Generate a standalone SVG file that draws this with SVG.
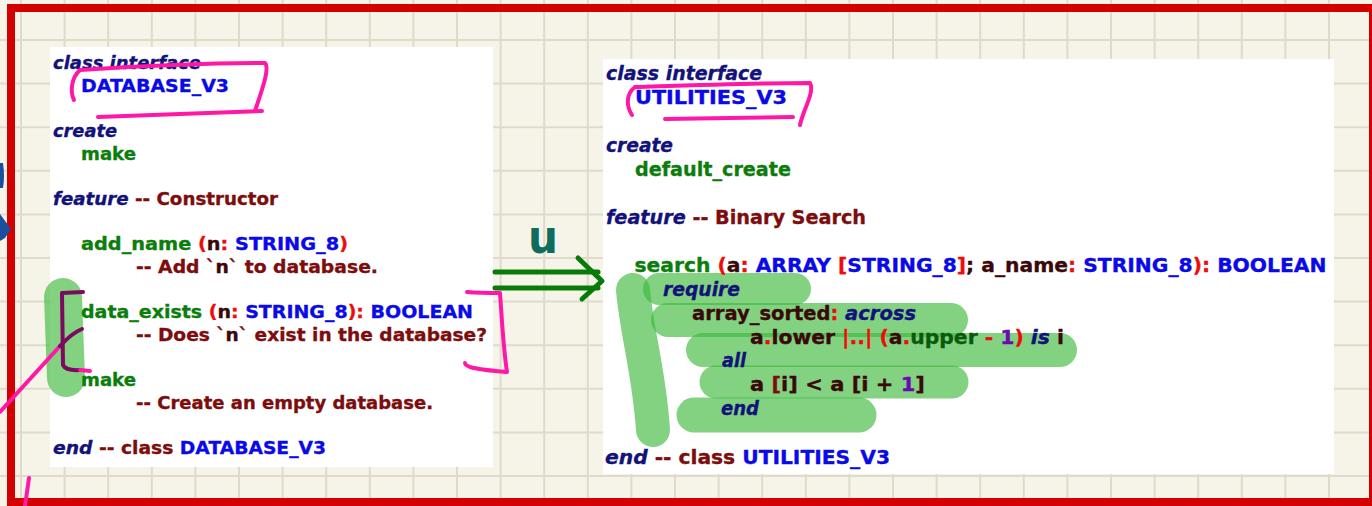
<svg xmlns="http://www.w3.org/2000/svg" width="1372" height="506" viewBox="0 0 1372 506">
<style>
.t{font-family:"DejaVu Sans",Verdana,sans-serif;font-weight:bold;stroke-width:0.35}
.l{font-size:18.5px}
.r{font-size:19.5px}
.kw{fill:#12127a;stroke:#12127a;font-style:italic}
.cl{fill:#0a0ae8;stroke:#0a0ae8}
.fn{fill:#0b7d0b;stroke:#0b7d0b}
.cm{fill:#7d0c0c;stroke:#7d0c0c}
.sy{fill:#f00a0a;stroke:#f00a0a}
.id{fill:#3a0808;stroke:#3a0808}
.up{fill:#0b5a0b;stroke:#0b5a0b}
.nu{fill:#6a0ab0;stroke:#6a0ab0}
.pink{fill:none;stroke:#ff18a6;stroke-width:4;stroke-linecap:round;stroke-linejoin:round}
.purp{fill:none;stroke:#7b0b5e;stroke-width:4;stroke-linecap:round;stroke-linejoin:round}
.hl{fill:none;stroke:#3cb83c;stroke-opacity:0.64;stroke-linecap:round}
.panel{fill:#ffffff}
</style>
<rect x="0" y="0" width="1372" height="506" fill="#f6f4e8"/>
<path fill="none" stroke="#dedbcb" stroke-width="2" d="M21 0V506M64.6 0V506M108.2 0V506M151.8 0V506M195.4 0V506M239 0V506M282.6 0V506M326.2 0V506M369.8 0V506M413.4 0V506M457 0V506M500.6 0V506M544.2 0V506M587.8 0V506M631.4 0V506M675 0V506M718.6 0V506M762.2 0V506M805.8 0V506M849.4 0V506M893 0V506M936.6 0V506M980.2 0V506M1023.8 0V506M1067.4 0V506M1111 0V506M1154.6 0V506M1198.2 0V506M1241.8 0V506M1285.4 0V506M1329 0V506M0 40H1372M0 83.6H1372M0 127.2H1372M0 170.8H1372M0 214.4H1372M0 258H1372M0 301.6H1372M0 345.2H1372M0 388.8H1372M0 432.4H1372M0 476H1372"/>
<rect x="11" y="8" width="1362" height="494" fill="none" stroke="#d40000" stroke-width="8"/>

<g id="database_v3">
<rect class="panel" x="50" y="47" width="443" height="420"/>
<path class="hl" stroke-width="38" d="M63 297L66 378"/>
<text class="t l" x="53" y="69" textLength="148" lengthAdjust="spacingAndGlyphs"><tspan class="kw">class interface</tspan></text>
<text class="t l" x="81" y="92" textLength="148" lengthAdjust="spacingAndGlyphs"><tspan class="cl">DATABASE_V3</tspan></text>
<text class="t l" x="53" y="137" textLength="64" lengthAdjust="spacingAndGlyphs"><tspan class="kw">create</tspan></text>
<text class="t l" x="81" y="160" textLength="55" lengthAdjust="spacingAndGlyphs"><tspan class="fn">make</tspan></text>
<text class="t l" x="53" y="205" textLength="225" lengthAdjust="spacingAndGlyphs"><tspan class="kw">feature</tspan><tspan class="cm"> -- Constructor</tspan></text>
<text class="t l" x="81" y="250" textLength="267" lengthAdjust="spacingAndGlyphs"><tspan class="fn">add_name</tspan><tspan class="sy"> (</tspan><tspan class="id">n</tspan><tspan class="sy">:</tspan><tspan class="cl"> STRING_8</tspan><tspan class="sy">)</tspan></text>
<text class="t l" x="136" y="272.5" textLength="242" lengthAdjust="spacingAndGlyphs"><tspan class="cm">-- Add `</tspan><tspan class="id">n</tspan><tspan class="cm">` to database.</tspan></text>
<text class="t l" x="81" y="318" textLength="392" lengthAdjust="spacingAndGlyphs"><tspan class="fn">data_exists</tspan><tspan class="sy"> (</tspan><tspan class="id">n</tspan><tspan class="sy">:</tspan><tspan class="cl"> STRING_8</tspan><tspan class="sy">):</tspan><tspan class="cl"> BOOLEAN</tspan></text>
<text class="t l" x="136" y="341" textLength="351" lengthAdjust="spacingAndGlyphs"><tspan class="cm">-- Does `</tspan><tspan class="id">n</tspan><tspan class="cm">` exist in the database?</tspan></text>
<text class="t l" x="81" y="386" textLength="55" lengthAdjust="spacingAndGlyphs"><tspan class="fn">make</tspan></text>
<text class="t l" x="136" y="409" textLength="297" lengthAdjust="spacingAndGlyphs"><tspan class="cm">-- Create an empty database.</tspan></text>
<text class="t l" x="53" y="454" textLength="273" lengthAdjust="spacingAndGlyphs"><tspan class="kw">end</tspan><tspan class="cm"> -- class</tspan><tspan class="cl"> DATABASE_V3</tspan></text>
</g>

<g id="utilities_v3">
<rect class="panel" x="603" y="59" width="731" height="415"/>
<path class="hl" stroke-width="34" d="M633 290C637 335 649 370 653 430"/>
<path class="hl" stroke-width="32" d="M659 289H795"/>
<path class="hl" stroke-width="34" d="M668 320H951"/>
<path class="hl" stroke-width="34" d="M703 350H1060"/>
<path class="hl" stroke-width="33" d="M716 382H952"/>
<path class="hl" stroke-width="35" d="M694 415H859"/>
<text class="t r" x="606" y="80" textLength="156" lengthAdjust="spacingAndGlyphs"><tspan class="kw">class interface</tspan></text>
<text class="t r" x="635" y="104" textLength="152" lengthAdjust="spacingAndGlyphs"><tspan class="cl">UTILITIES_V3</tspan></text>
<text class="t r" x="606" y="152" textLength="67" lengthAdjust="spacingAndGlyphs"><tspan class="kw">create</tspan></text>
<text class="t r" x="635" y="176" textLength="156" lengthAdjust="spacingAndGlyphs"><tspan class="fn">default_create</tspan></text>
<text class="t r" x="606" y="224" textLength="260" lengthAdjust="spacingAndGlyphs"><tspan class="kw">feature</tspan><tspan class="cm"> -- Binary Search</tspan></text>
<text class="t r" x="634.5" y="272" textLength="692" lengthAdjust="spacingAndGlyphs"><tspan class="fn">search</tspan><tspan class="sy"> (</tspan><tspan class="id">a</tspan><tspan class="sy">:</tspan><tspan class="cl"> ARRAY </tspan><tspan class="sy">[</tspan><tspan class="cl">STRING_8</tspan><tspan class="sy">]</tspan><tspan class="id">; a_name</tspan><tspan class="sy">:</tspan><tspan class="cl"> STRING_8</tspan><tspan class="sy">):</tspan><tspan class="cl"> BOOLEAN</tspan></text>
<text class="t r" x="663" y="296" textLength="77" lengthAdjust="spacingAndGlyphs"><tspan class="kw">require</tspan></text>
<text class="t r" x="692" y="320" textLength="224" lengthAdjust="spacingAndGlyphs"><tspan class="id">array_sorted</tspan><tspan class="sy">:</tspan><tspan class="kw"> across</tspan></text>
<text class="t r" x="750" y="344" textLength="314" lengthAdjust="spacingAndGlyphs"><tspan class="id">a</tspan><tspan class="sy">.</tspan><tspan class="id">lower</tspan><tspan class="sy"> |..| (</tspan><tspan class="id">a</tspan><tspan class="sy">.</tspan><tspan class="up">upper</tspan><tspan class="sy"> - </tspan><tspan class="nu">1</tspan><tspan class="sy">)</tspan><tspan class="kw"> is</tspan><tspan class="id"> i</tspan></text>
<text class="t r" x="722" y="367" textLength="24" lengthAdjust="spacingAndGlyphs"><tspan class="kw">all</tspan></text>
<text class="t r" x="750" y="391" textLength="175" lengthAdjust="spacingAndGlyphs"><tspan class="id">a </tspan><tspan class="cm">[</tspan><tspan class="id">i] &lt; a [i + </tspan><tspan class="nu">1</tspan><tspan class="id">]</tspan></text>
<text class="t r" x="721" y="415" textLength="38" lengthAdjust="spacingAndGlyphs"><tspan class="kw">end</tspan></text>
<text class="t r" x="605" y="464" textLength="285" lengthAdjust="spacingAndGlyphs"><tspan class="kw">end</tspan><tspan class="cm"> -- class</tspan><tspan class="cl"> UTILITIES_V3</tspan></text>
</g>

<g id="annotations">
<path class="pink" d="M74 100C70 92 71 78 80 70"/>
<path class="pink" d="M80 70C140 66 200 63 265 63C270 68 262 90 255 111"/>
<path class="pink" d="M98 117C150 115 210 113 262 111"/>
<path class="pink" d="M632 115C626 106 626 94 635 87"/>
<path class="pink" d="M635 87C700 85 760 83 810 83C815 92 803 110 800 125"/>
<path class="pink" d="M665 119C710 118 750 118 793 117"/>
<path class="pink" d="M467 292C480 293 490 293 500 293C502 320 503 345 507 372C495 371 480 370 470 367Q465 365 465 363"/>
<path class="pink" d="M0 412L60 346"/>
<path class="purp" d="M60 346Q72 333 82 329"/>
<path class="purp" d="M83 292L62 293L63 365Q66 371 80 370"/>
<path class="pink" d="M80 370L90 371"/>
<path class="pink" d="M29 478L25 506"/>
<path fill="#1a4f9e" d="M0 163H3Q5 176 3 188H0Z"/>
<path fill="#1a4f9e" d="M0 214L11 229L5 238L0 241Z"/>
</g>

<g id="connectors">
<g fill="none" stroke="#087a08" stroke-width="5" stroke-linecap="round" stroke-linejoin="round">
<path d="M495 272H598"/>
<path d="M495 288H598"/>
<path d="M578 258L602 281L582 299"/>
</g>
<text x="528" y="253" font-family="DejaVu Sans, sans-serif" font-weight="bold" font-size="46" fill="#0e6e5e" textLength="30" lengthAdjust="spacingAndGlyphs">u</text>
</g>
</svg>
